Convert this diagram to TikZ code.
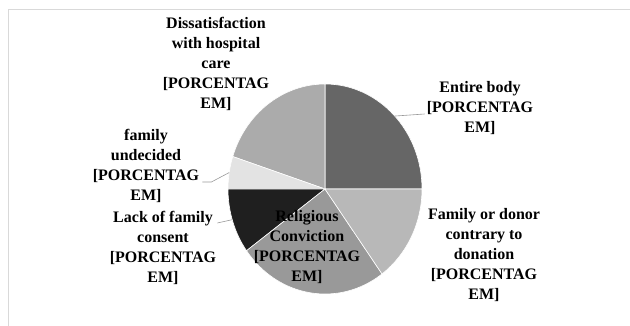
\documentclass[tikz,border=0pt]{standalone}
\usepackage{fontspec}
\setmainfont{Liberation Serif}
\usetikzlibrary{calc}
\begin{document}
\begin{tikzpicture}[x=1pt,y=1pt,
  lbl/.style={align=center,inner sep=0pt,font=\bfseries\fontsize{16}{20}\selectfont},
  slice/.style={draw=white,line width=0.6pt},
  leader/.style={draw=black!40,line width=0.6pt},
  frame/.style={draw=black!15,line width=1pt}]
\useasboundingbox (0,0) rectangle (630,326);
\def\rx{97}\def\ry{105}
\coordinate (c) at (325,137);
% slices
\fill[black!60,slice] (c) -- ++(0:\rx pt and \ry pt) arc[start angle=0,end angle=90,x radius=\rx,y radius=\ry] -- cycle;
\fill[black!33,slice] (c) -- ++(90:\rx pt and \ry pt) arc[start angle=90,end angle=162,x radius=\rx,y radius=\ry] -- cycle;
\fill[black!11,slice] (c) -- ++(162:\rx pt and \ry pt) arc[start angle=162,end angle=180,x radius=\rx,y radius=\ry] -- cycle;
\fill[black!88,slice] (c) -- ++(180:\rx pt and \ry pt) arc[start angle=180,end angle=216,x radius=\rx,y radius=\ry] -- cycle;
\fill[black!40,slice] (c) -- ++(216:\rx pt and \ry pt) arc[start angle=216,end angle=306,x radius=\rx,y radius=\ry] -- cycle;
\fill[black!28,slice] (c) -- ++(306:\rx pt and \ry pt) arc[start angle=306,end angle=360,x radius=\rx,y radius=\ry] -- cycle;
% frame
\coordinate (ftl) at (8.5,316.5);
\coordinate (ftr) at (630,316.5);
\coordinate (fbl) at (8.5,0);
\draw[frame] (ftr) -- (ftl) -- (fbl);
% labels
\node[lbl] (dis) at (216,262) {Dissatisfaction\\with hospital\\care\\{[}PORCENTAG\\EM{]}};
\node[lbl] (ent) at (480,218) {Entire body\\{[}PORCENTAG\\EM{]}};
\node[lbl] (fam) at (484,71) {Family or donor\\contrary to\\donation\\{[}PORCENTAG\\EM{]}};
\node[lbl] (und) at (146,160) {family\\undecided\\{[}PORCENTAG\\EM{]}};
\node[lbl] (lack) at (163,78) {Lack of family\\consent\\{[}PORCENTAG\\EM{]}};
\node[lbl] (rel) at (307,79) {Religious\\Conviction\\{[}PORCENTAG\\EM{]}};
% leader lines
\coordinate (entp) at ($(c)+(44:\rx pt and \ry pt)$);
\coordinate (undp) at ($(c)+(171:\rx pt and \ry pt)$);
\coordinate (lackp) at ($(c)+(197:\rx pt and \ry pt)$);
\draw[leader] (entp) -- ([shift={(-2,-6)}]ent.west);
\draw[leader] ([shift={(3,-16)}]und.east) -- ++(9,0) -- (undp);
\draw[leader] ([shift={(1,25)}]lack.east) -- (lackp);
\end{tikzpicture}
\end{document}
